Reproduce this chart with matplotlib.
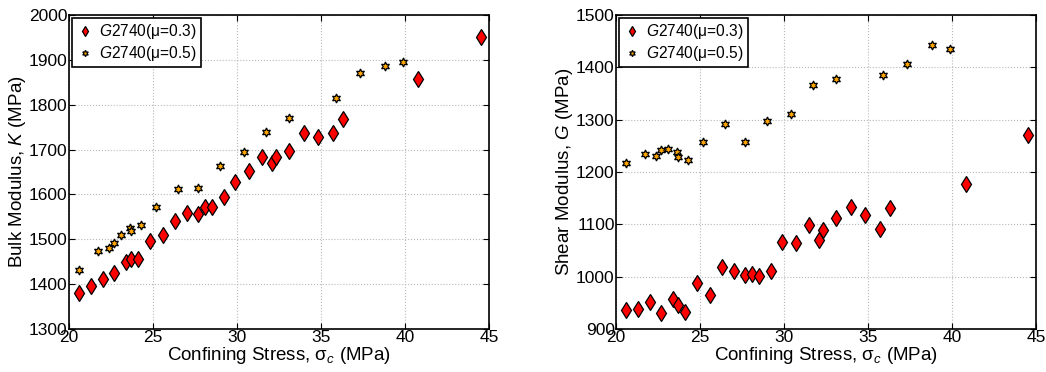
import numpy as np
from matplotlib import pyplot as plt

plt.rcParams['font.family'] = ['Liberation Sans', 'DejaVu Sans']
plt.rcParams['mathtext.fontset'] = 'custom'
plt.rcParams['mathtext.rm'] = 'Liberation Sans'
plt.rcParams['mathtext.it'] = 'Liberation Sans:italic'

# mu = 0.3 (red diamonds)
stress_03 = np.array([20.6, 21.3, 22.0, 22.7, 23.4, 23.7, 24.1, 24.8, 25.6, 26.3, 27.0, 27.7, 28.1, 28.5,
                      29.2, 29.9, 30.7, 31.5, 32.1, 32.3, 33.1, 34.0, 34.8, 35.7, 36.3, 40.8, 44.5])
K_03 = np.array([1381, 1395, 1412, 1425, 1449, 1455, 1457, 1496, 1509, 1541, 1559, 1557, 1572, 1572,
                 1595, 1627, 1653, 1684, 1669, 1684, 1697, 1738, 1728, 1738, 1768, 1857, 1950])
G_03 = np.array([936, 938, 951, 931, 957, 945, 932, 987, 965, 1018, 1010, 1004, 1006, 1002,
                 1010, 1067, 1064, 1099, 1070, 1090, 1113, 1134, 1117, 1092, 1132, 1178, 1270])

# mu = 0.5 (orange stars)
stress_05 = np.array([20.6, 21.7, 22.4, 22.7, 23.1, 23.6, 23.7, 24.3, 25.2, 26.5, 27.7, 29.0, 30.4,
                      31.7, 33.1, 35.9, 37.3, 38.8, 39.9])
K_05 = np.array([1431, 1473, 1480, 1491, 1509, 1526, 1518, 1532, 1572, 1612, 1615, 1664, 1695,
                 1739, 1771, 1815, 1870, 1887, 1895])
G_05 = np.array([1218, 1235, 1231, 1243, 1244, 1239, 1228, 1223, 1258, 1292, 1258, 1298, 1310,
                 1366, 1377, 1386, 1406, 1443, 1436])

lab_03 = r'$\mathit{G2740}$(μ=0.3)'
lab_05 = r'$\mathit{G2740}$(μ=0.5)'

fig = plt.figure(figsize=(10.46, 3.72), dpi=100)
ax1 = fig.add_axes([0.066, 0.1156, 0.4015, 0.844])
ax2 = fig.add_axes([0.589, 0.1156, 0.4015, 0.844])

panels = [(ax1, K_03, K_05, (1300, 2000), 'Bulk Modulus, $\\mathit{K}$ (MPa)'),
          (ax2, G_03, G_05, (900, 1500), 'Shear Modulus, $\\mathit{G}$ (MPa)')]

for ax, y03, y05, ylim, ylab in panels:
    ax.plot(stress_03, y03, linestyle='none', marker='d', markersize=8,
            markerfacecolor='red', markeredgecolor='black', markeredgewidth=0.9, label=lab_03)
    ax.plot(stress_05, y05, linestyle='none', marker=(6, 1, 0), markersize=6.5,
            markerfacecolor='#ffa500', markeredgecolor='black', markeredgewidth=0.9, label=lab_05)
    ax.set_xlim(20, 45)
    ax.set_ylim(*ylim)
    ax.set_xticks(np.arange(20, 46, 5))
    ax.set_yticks(np.arange(ylim[0], ylim[1] + 1, 100))
    ax.grid(True, linestyle=':', color='#b8b8b8', linewidth=0.8)
    ax.tick_params(direction='in', top=True, right=True, labelsize=12.5, pad=1, length=4)
    for s in ax.spines.values():
        s.set_linewidth(1.2)
    ax.set_xlabel('Confining Stress, σ$_\\mathit{c}$ (MPa)', fontsize=13.5, labelpad=0)
    ax.set_ylabel(ylab, fontsize=13.5, labelpad=1)
    leg = ax.legend(loc='upper left', numpoints=1, fontsize=11.2, fancybox=False,
                    framealpha=1, borderaxespad=0.2, handletextpad=0.3, handlelength=1.2,
                    borderpad=0.25, labelspacing=0.2, markerscale=0.7)
    leg.get_frame().set_edgecolor('black')
    leg.get_frame().set_linewidth(1.2)

plt.savefig('out.png', dpi=100)
